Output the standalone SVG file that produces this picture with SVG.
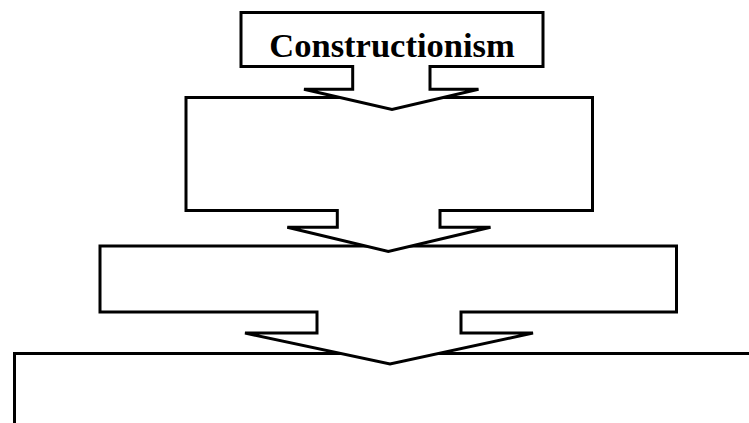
<svg xmlns="http://www.w3.org/2000/svg" width="749" height="423" viewBox="0 0 749 423">
  <style>
    .shape { fill: #ffffff; stroke: #000000; stroke-width: 3; stroke-linejoin: miter; }
    .label { font-family: "Liberation Serif", "Times New Roman", serif; font-weight: bold; font-size: 34.5px; fill: #000000; text-anchor: middle; }
  </style>
  <rect x="0" y="0" width="749" height="423" fill="#ffffff"/>
  <g id="node4">
    <path class="shape" d="M14.5,353.5 H760 V440 H14.5 Z"/>
  </g>
  <g id="node3">
    <path class="shape" d="M100,246 H676.5 V312 H461 V333 H533 L390,364 L245,333 H317 V312 H100 Z"/>
  </g>
  <g id="node2">
    <path class="shape" d="M186,97.5 H592.5 V210.5 H440 V227.3 H490.5 L388.3,251.5 L287.3,227.3 H337.3 V210.5 H186 Z"/>
  </g>
  <g id="node1">
    <path class="shape" d="M241,12.5 H543 V66.5 H430 V89.3 H478.5 L392,109.5 L304,89.3 H352.7 V66.5 H241 Z"/>
    <text class="label" x="392" y="57">Constructionism</text>
  </g>
  <g id="connectors"></g>
</svg>
